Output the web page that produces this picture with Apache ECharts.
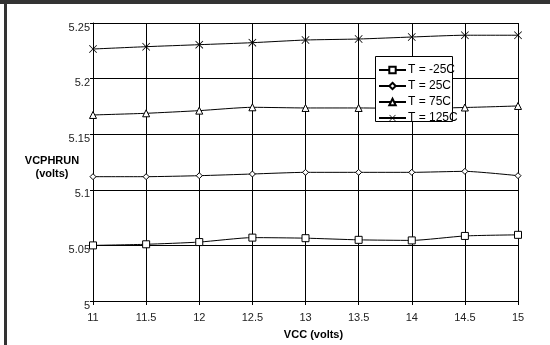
<!DOCTYPE html>
<html>
<head>
<meta charset="utf-8">
<script src="https://cdn.jsdelivr.net/npm/echarts@6/dist/echarts.min.js"></script>
<style>
  html, body { margin: 0; padding: 0; background: #fff; }
  #chart { width: 550px; height: 345px; }
</style>
</head>
<body>
<div id="chart"></div>
<script>
// VCC values (volts)
const vcc = [11, 11.5, 12, 12.5, 13, 13.5, 14, 14.5, 15];
// VCPHRUN readings per temperature
const tMinus25 = [5.050, 5.051, 5.053, 5.057, 5.0565, 5.055, 5.0545, 5.0585, 5.0595];
const t25 = [5.1118, 5.1118, 5.1127, 5.1142, 5.1157, 5.1157, 5.1157, 5.1166, 5.1127];
const t75 = [5.1673, 5.1688, 5.1712, 5.1742, 5.1736, 5.1736, 5.1732, 5.174, 5.1754];
const t125 = [5.2266, 5.2287, 5.2305, 5.2323, 5.2347, 5.2356, 5.2374, 5.239, 5.239];
const seriesNames = ["T = -25C", "T = 25C", "T = 75C", "T = 125C"];

// thin "x" marker
const crossPath = "path://M0,0.7L0.7,0L5,4.3L9.3,0L10,0.7L5.7,5L10,9.3L9.3,10L5,5.7L0.7,10L0,9.3L4.3,5Z";

function pairs(ys) {
  return vcc.map((x, i) => [x, ys[i]]);
}

function makeSeries(name, ys, symbol, size, fill, border) {
  return {
    name: name,
    type: "line",
    smooth: 0.2,
    data: pairs(ys),
    symbol: symbol,
    symbolSize: size,
    showAllSymbol: true,
    lineStyle: { color: "#000", width: 1 },
    itemStyle: { color: fill, borderColor: "#000", borderWidth: border },
    emphasis: { disabled: true },
  };
}

const chart = echarts.init(document.getElementById("chart"));
chart.setOption({
  animation: false,
  textStyle: { fontFamily: "Liberation Sans, Arial, sans-serif" },
  grid: { left: 93, right: 32, top: 23, bottom: 44, outerBoundsMode: "none" },
  legend: {
    orient: "vertical",
    left: 375,
    top: 64,
    z: 11,
    data: seriesNames,
    padding: [0, 0, 0, 3],
    itemGap: 4,
    itemWidth: 27,
    itemHeight: 8,
    textStyle: { color: "#000", fontSize: 12, padding: [0, 0, 0, -3] },
  },
  xAxis: {
    type: "value",
    min: 11,
    max: 15,
    interval: 0.5,
    name: "VCC (volts)",
    nameLocation: "middle",
    nameMoveOverlap: false,
    nameGap: 28,
    nameTextStyle: { color: "#000", fontWeight: "bold", fontSize: 11, padding: [0, 0, 0, 16] },
    axisLine: { lineStyle: { color: "#000" } },
    axisTick: { lineStyle: { color: "#000" }, length: 4 },
    axisLabel: { color: "#222", fontSize: 11, margin: 11 },
    splitLine: { lineStyle: { color: "#000", width: 1 } },
  },
  yAxis: {
    type: "value",
    min: 5,
    max: 5.25,
    interval: 0.05,
    axisLine: { show: true, lineStyle: { color: "#000" } },
    axisTick: { show: true, lineStyle: { color: "#000" }, length: 3 },
    axisLabel: { color: "#222", fontSize: 11, margin: 3, verticalAlign: "top", lineHeight: 9, formatter: (v) => String(+v.toFixed(2)) },
    splitLine: { lineStyle: { color: "#000", width: 1 } },
  },
  graphic: [
    { type: "rect", shape: { x: 0, y: 0, width: 550, height: 4 }, style: { fill: "#333" } },
    { type: "rect", shape: { x: 4, y: 0, width: 3, height: 345 }, style: { fill: "#333" } },
    // y axis title, two lines left of the plot
    {
      type: "text", x: 52, y: 167,
      style: {
        text: "VCPHRUN\n(volts)", fill: "#000", align: "center", verticalAlign: "middle",
        font: "bold 11px Liberation Sans, Arial, sans-serif", lineHeight: 13,
      },
    },
    // legend box (text runs over its right edge, as in the original)
    { type: "rect", z: 10, shape: { x: 375.5, y: 56.5, width: 77, height: 65 }, style: { fill: "#fff", stroke: "#000", lineWidth: 1 } },
  ],
  series: [
    makeSeries(seriesNames[0], tMinus25, "rect", 7, "#fff", 1),
    makeSeries(seriesNames[1], t25, "diamond", 6, "#fff", 1),
    makeSeries(seriesNames[2], t75, "triangle", 7, "#fff", 1),
    makeSeries(seriesNames[3], t125, crossPath, 8, "#000", 0),
  ],
});
</script>
</body>
</html>
